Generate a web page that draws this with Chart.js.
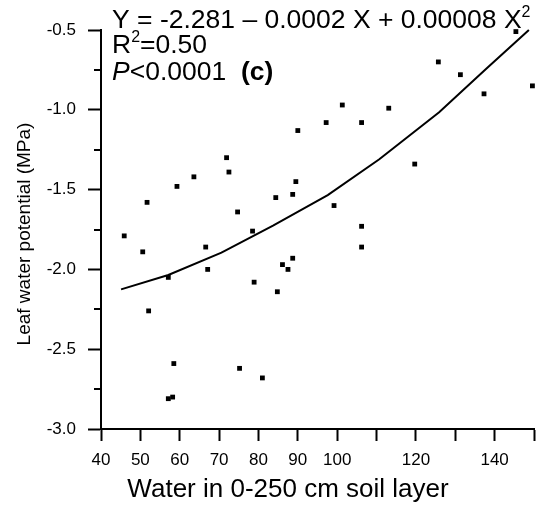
<!DOCTYPE html>
<html>
<head>
<meta charset="utf-8">
<script src="https://cdn.jsdelivr.net/npm/chart.js@4.4.1/dist/chart.umd.min.js"></script>
<style>
  html, body { margin: 0; padding: 0; background: #fff; }
  canvas { display: block; }
</style>
</head>
<body>
<canvas id="lwpChart" width="538" height="508"></canvas>
<script>
// observed points: water in 0-250 cm soil layer vs leaf water potential (MPa)
const waterX = [
  90.0, 71.9, 72.5, 63.6, 59.3, 51.7, 89.5, 84.4, 88.7, 74.7,
  145.4, 125.7, 131.3, 149.6, 137.3, 101.3, 113.1, 97.2, 106.2, 119.7,
  99.2, 106.2, 106.2, 45.9, 50.6, 78.5, 66.6, 67.1, 57.1, 86.1,
  88.7, 87.5, 78.9, 84.8, 52.1, 58.5, 75.2, 81.0, 57.1, 58.2,
];
const leafWP = [
  -1.13, -1.3, -1.39, -1.42, -1.48, -1.58, -1.45, -1.55, -1.53, -1.64,
  -0.51, -0.7, -0.78, -0.85, -0.9, -0.97, -0.99, -1.08, -1.08, -1.34,
  -1.6, -1.73, -1.86, -1.79, -1.89, -1.76, -1.86, -2.0, -2.05, -1.97,
  -1.93, -2.0, -2.08, -2.14, -2.26, -2.59, -2.62, -2.68, -2.81, -2.8,
];

// fitted curve
const fitX = [45.1, 57.1, 70.6, 83.7, 97.6, 110.7, 125.9, 137.8, 148.7];
const fitY = [-2.125, -2.035, -1.895, -1.725, -1.534, -1.31, -1.015, -0.745, -0.5];

const xTickValues = [40, 50, 60, 70, 80, 90, 100, 110, 120, 130, 140, 150];
const xTickLabels = ["40", "50", "60", "70", "80", "90", "100", "", "120", "", "140", ""];
const yTickValues = [-3, -2.75, -2.5, -2.25, -2, -1.75, -1.5, -1.25, -1, -0.75, -0.5];
const yTickLabels = ["-3.0", "", "-2.5", "", "-2.0", "", "-1.5", "", "-1.0", "", "-0.5"];

const FONT = "'Liberation Sans', Arial, sans-serif";

// draws runs of text with different fonts / baseline shifts
function drawRuns(ctx, x, y, runs) {
  runs.forEach((r) => {
    ctx.font = r.font;
    ctx.fillText(r.text, x, y + (r.dy || 0));
    x += ctx.measureText(r.text).width;
  });
}

const overlayText = {
  id: "overlayText",
  afterDraw(chart) {
    const ctx = chart.ctx;
    const yScale = chart.scales.y;
    const area = chart.chartArea;
    ctx.save();

    // short minor ticks on the y axis
    ctx.strokeStyle = "#000";
    ctx.lineWidth = 2;
    yScale.ticks.forEach((t, i) => {
      if (yTickLabels[i] !== "") return;
      const py = Math.round(yScale.getPixelForValue(t.value));
      ctx.beginPath();
      ctx.moveTo(area.left - 7, py);
      ctx.lineTo(area.left, py);
      ctx.stroke();
    });

    ctx.fillStyle = "#000";
    ctx.textBaseline = "alphabetic";

    // axis titles
    ctx.textAlign = "center";
    ctx.font = "26px " + FONT;
    ctx.fillText("Water in 0-250 cm soil layer", 288, 497);
    ctx.save();
    ctx.translate(30, 234);
    ctx.rotate(-Math.PI / 2);
    ctx.font = "19px " + FONT;
    ctx.fillText("Leaf water potential (MPa)", 0, 0);
    ctx.restore();

    // regression text
    ctx.textAlign = "left";
    const big = "26.5px " + FONT;
    const sup = "16px " + FONT;
    drawRuns(ctx, 112, 28, [
      { text: "Y = -2.281 \u2013 0.0002 X + 0.00008 X", font: big },
      { text: "2", font: sup, dy: -11 },
    ]);
    drawRuns(ctx, 112, 53, [
      { text: "R", font: big },
      { text: "2", font: sup, dy: -11 },
      { text: "=0.50", font: big },
    ]);
    drawRuns(ctx, 112, 80, [
      { text: "P", font: "italic " + big },
      { text: "<0.0001  ", font: big },
      { text: "(c)", font: "bold " + big },
    ]);
    ctx.restore();
  },
};

new Chart(document.getElementById("lwpChart"), {
  type: "scatter",
  data: {
    datasets: [
      {
        label: "Fit",
        data: fitX.map((x, i) => ({ x: x, y: fitY[i] })),
        showLine: true,
        borderColor: "#000",
        borderWidth: 2,
        pointRadius: 0,
        tension: 0,
        clip: false,
      },
      {
        label: "Observed",
        data: waterX.map((x, i) => ({ x: x, y: leafWP[i] })),
        pointStyle: "rect",
        pointRadius: 3.4,
        backgroundColor: "#000",
        borderWidth: 0,
        clip: false,
      },
    ],
  },
  options: {
    responsive: false,
    animation: false,
    devicePixelRatio: 1,
    layout: { padding: { top: 30, right: 3, left: 0, bottom: 0 } },
    plugins: { legend: { display: false }, tooltip: { enabled: false } },
    scales: {
      x: {
        type: "linear",
        min: 40,
        max: 150,
        afterBuildTicks: (s) => {
          s.ticks = xTickValues.map((v) => ({ value: v }));
        },
        afterFit: (s) => {
          s.height = 79;
          s.paddingLeft = 0;
          s.paddingRight = 0;
        },
        border: { display: true, color: "#000", width: 2 },
        grid: {
          drawOnChartArea: false,
          drawTicks: true,
          tickLength: 12,
          tickColor: "#000",
          tickWidth: 2,
        },
        ticks: {
          autoSkip: false,
          maxRotation: 0,
          color: "#000",
          padding: 9,
          font: { family: FONT, size: 17 },
          callback: (v, i) => xTickLabels[i],
        },
      },
      y: {
        type: "linear",
        min: -3,
        max: -0.5,
        afterBuildTicks: (s) => {
          s.ticks = yTickValues.map((v) => ({ value: v }));
        },
        afterFit: (s) => {
          s.width = 101;
          s.paddingTop = 0;
          s.paddingBottom = 0;
        },
        border: { display: true, color: "#000", width: 2 },
        grid: {
          drawOnChartArea: false,
          drawTicks: true,
          tickLength: 13,
          tickWidth: 2,
          tickColor: (c) => (yTickLabels[c.index] === "" ? "rgba(0,0,0,0)" : "#000"),
        },
        ticks: {
          autoSkip: false,
          color: "#000",
          padding: 12,
          font: { family: FONT, size: 17 },
          callback: (v, i) => yTickLabels[i],
        },
      },
    },
  },
  plugins: [overlayText],
});
</script>
</body>
</html>
